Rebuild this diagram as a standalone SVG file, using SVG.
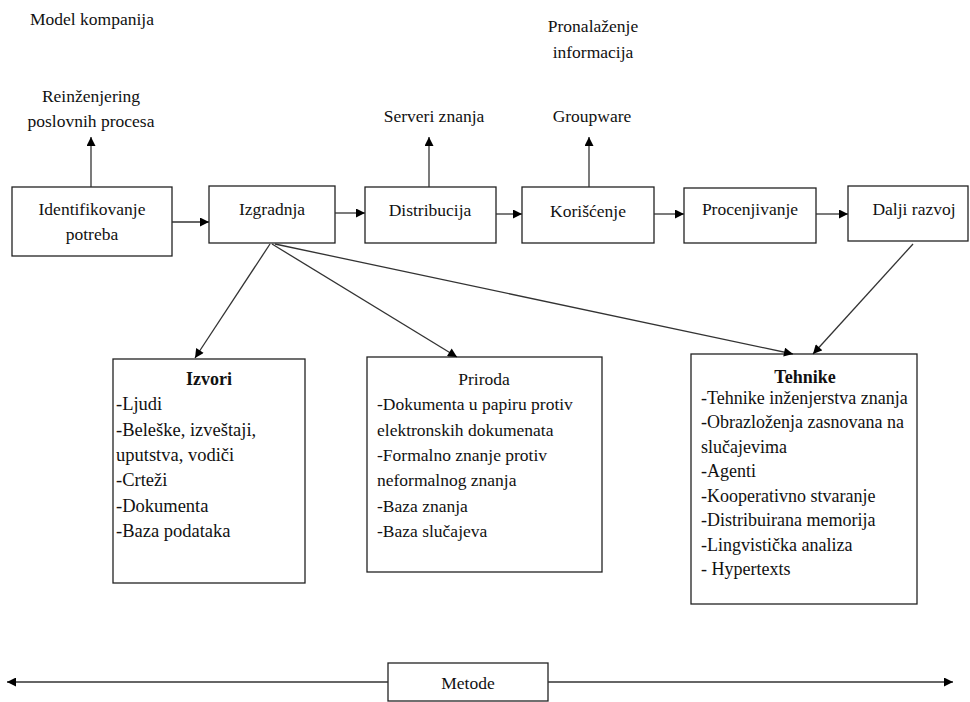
<svg xmlns="http://www.w3.org/2000/svg" width="970" height="702" viewBox="0 0 970 702">
  <style>
    text { font-family: "Liberation Serif", "Times New Roman", serif; fill: #111; }
    .lbl { font-size: 17.5px; text-anchor: middle; }
    .lst { font-size: 18.5px; }
    .lst-p { font-size: 17.5px; }
    .lst-t { font-size: 18px; }
    .hd { font-size: 18px; text-anchor: middle; }
    .b { font-weight: bold; }
    .box { fill: #fff; stroke: #222; stroke-width: 1.3; }
    .con { stroke: #333; stroke-width: 1.3; fill: none; marker-end: url(#ah); }
  </style>
  <defs>
    <marker id="ah" viewBox="0 0 10 10" refX="10" refY="5" markerWidth="10" markerHeight="9" markerUnits="userSpaceOnUse" orient="auto-start-reverse">
      <path d="M0,0 L10,5 L0,10 z" fill="#000"/>
    </marker>
  </defs>
  <rect width="970" height="702" fill="#fff"/>

  <!-- free labels -->
  <g id="lbl-model"><text class="lbl" x="92" y="25">Model kompanija</text></g>
  <g id="lbl-reinz">
    <text class="lbl" x="91" y="102">Reinženjering</text>
    <text class="lbl" x="91" y="127">poslovnih procesa</text>
  </g>
  <g id="lbl-pronal">
    <text class="lbl" x="593" y="32">Pronalaženje</text>
    <text class="lbl" x="593" y="58">informacija</text>
  </g>
  <g id="lbl-serveri"><text class="lbl" x="434" y="122">Serveri znanja</text></g>
  <g id="lbl-groupware"><text class="lbl" x="592" y="122">Groupware</text></g>

  <!-- process chain -->
  <g id="identifikovanje">
    <rect class="box" x="12" y="187" width="160" height="69"/>
    <text class="lbl" x="92" y="215">Identifikovanje</text>
    <text class="lbl" x="92" y="240">potreba</text>
  </g>
  <g id="izgradnja">
    <rect class="box" x="209" y="186" width="126" height="57"/>
    <text class="lbl" x="272" y="215">Izgradnja</text>
  </g>
  <g id="distribucija">
    <rect class="box" x="365" y="187" width="131" height="56"/>
    <text class="lbl" x="430" y="216">Distribucija</text>
  </g>
  <g id="koriscenje">
    <rect class="box" x="522" y="187" width="132" height="56"/>
    <text class="lbl" x="588" y="217">Korišćenje</text>
  </g>
  <g id="procenjivanje">
    <rect class="box" x="684" y="188" width="132" height="55"/>
    <text class="lbl" x="750" y="215">Procenjivanje</text>
  </g>
  <g id="dalji-razvoj">
    <rect class="box" x="848" y="186" width="120" height="55"/>
    <text class="lbl" x="914" y="215">Dalji razvoj</text>
  </g>

  <!-- detail boxes -->
  <g id="izvori">
    <rect class="box" x="113" y="359" width="192" height="224"/>
    <text class="hd b" x="209" y="385">Izvori</text>
    <text class="lst" x="116" y="410">-Ljudi</text>
    <text class="lst" x="116" y="436">-Beleške, izveštaji,</text>
    <text class="lst" x="116" y="461">uputstva, vodiči</text>
    <text class="lst" x="116" y="486">-Crteži</text>
    <text class="lst" x="116" y="512">-Dokumenta</text>
    <text class="lst" x="116" y="537">-Baza podataka</text>
  </g>
  <g id="priroda">
    <rect class="box" x="367" y="357" width="235" height="215"/>
    <text class="hd" x="484" y="385" style="font-size:17.5px">Priroda</text>
    <text class="lst-p" x="377" y="410">-Dokumenta u papiru protiv</text>
    <text class="lst-p" x="377" y="436">elektronskih dokumenata</text>
    <text class="lst-p" x="377" y="461">-Formalno znanje protiv</text>
    <text class="lst-p" x="377" y="486">neformalnog znanja</text>
    <text class="lst-p" x="377" y="512">-Baza znanja</text>
    <text class="lst-p" x="377" y="537">-Baza slučajeva</text>
  </g>
  <g id="tehnike">
    <rect class="box" x="691" y="354" width="226" height="250"/>
    <text class="hd b" x="805" y="383">Tehnike</text>
    <text class="lst-t" x="701" y="404">-Tehnike inženjerstva znanja</text>
    <text class="lst-t" x="701" y="428">-Obrazloženja zasnovana na</text>
    <text class="lst-t" x="701" y="453">slučajevima</text>
    <text class="lst-t" x="701" y="477">-Agenti</text>
    <text class="lst-t" x="701" y="502">-Kooperativno stvaranje</text>
    <text class="lst-t" x="701" y="526">-Distribuirana memorija</text>
    <text class="lst-t" x="701" y="551">-Lingvistička analiza</text>
    <text class="lst-t" x="701" y="575">- Hypertexts</text>
  </g>

  <g id="metode">
    <rect class="box" x="388" y="663" width="160" height="38"/>
    <text class="lbl" x="468" y="689">Metode</text>
  </g>

  <!-- connectors -->
  <g id="connectors">
    <line class="con" x1="91" y1="187" x2="91" y2="137"/>
    <line class="con" x1="429" y1="187" x2="429" y2="137"/>
    <line class="con" x1="589" y1="187" x2="589" y2="137"/>
    <line class="con" x1="172" y1="222" x2="209" y2="222"/>
    <line class="con" x1="335" y1="213" x2="365" y2="213"/>
    <line class="con" x1="496" y1="214" x2="522" y2="214"/>
    <line class="con" x1="654" y1="214" x2="684" y2="214"/>
    <line class="con" x1="816" y1="214" x2="848" y2="214"/>
    <line class="con" x1="270" y1="244" x2="195" y2="358"/>
    <line class="con" x1="272" y1="244" x2="457" y2="357"/>
    <line class="con" x1="275" y1="244" x2="793" y2="354"/>
    <line class="con" x1="913" y1="244" x2="813" y2="354"/>
    <line x1="7" y1="682" x2="388" y2="682" stroke="#333" stroke-width="1.3" marker-start="url(#ah)"/>
    <line x1="548" y1="682" x2="953" y2="682" class="con"/>
  </g>
</svg>
